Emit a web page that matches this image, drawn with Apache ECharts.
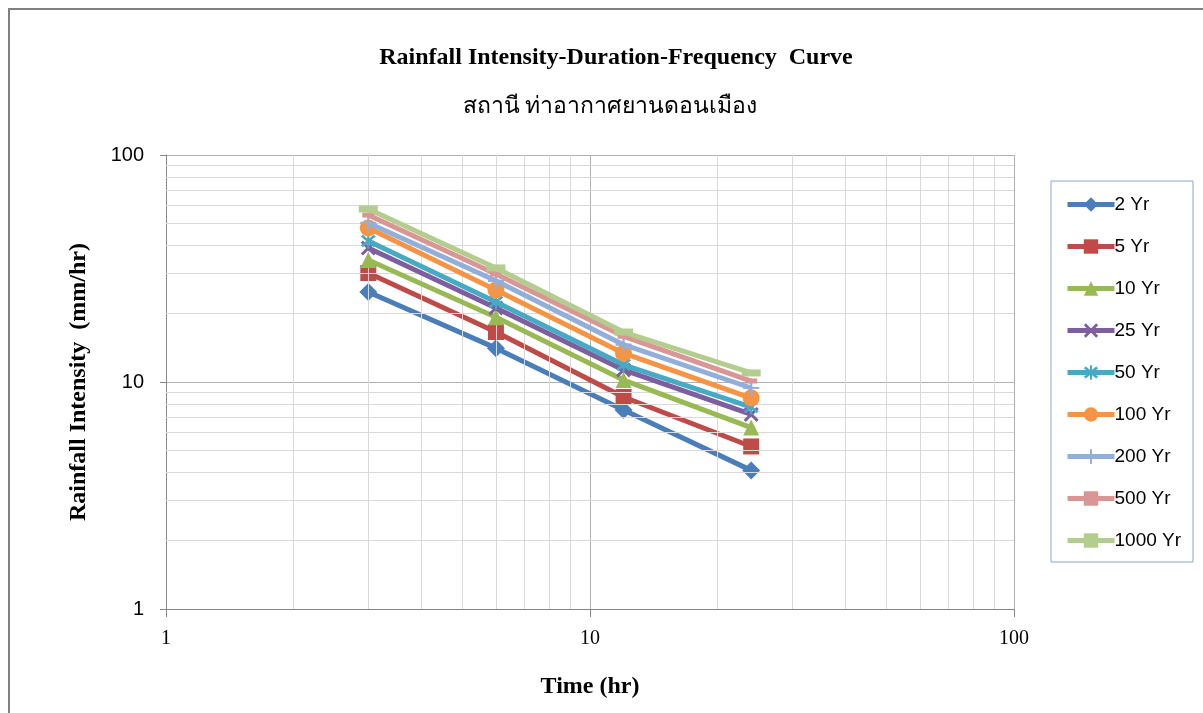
<!DOCTYPE html>
<html>
<head>
<meta charset="utf-8">
<script src="https://cdn.jsdelivr.net/npm/echarts@6/dist/echarts.min.js"></script>
<style>html,body{margin:0;padding:0;background:#fff}#c{width:1203px;height:713px}</style>
</head>
<body>
<div id="c"></div>
<script>
// ---- data ----
const durations = [3, 6, 12, 24];
const seriesNames = ['2 Yr','5 Yr','10 Yr','25 Yr','50 Yr','100 Yr','200 Yr','500 Yr','1000 Yr'];
const yr2    = [24.9, 14.1, 7.53, 4.08];
const yr5    = [30.2, 16.6, 8.59, 5.2];
const yr10   = [34.5, 19.3, 10.2, 6.3];
const yr25   = [38.9, 21.2, 11.3, 7.2];
const yr50   = [41.8, 22.5, 11.9, 7.76];
const yr100  = [47.7, 25.4, 13.4, 8.50];
const yr200  = [50.2, 27.9, 14.6, 9.41];
const yr500  = [54.4, 29.9, 15.9, 10.1];
const yr1000 = [57.8, 31.8, 16.6, 10.96];
const minorTicks = [2,3,4,5,6,7,8,9,20,30,40,50,60,70,80,90];
const titleText = 'Rainfall Intensity-Duration-Frequency  Curve';
const subTitleText = 'สถานี ท่าอากาศยานดอนเมือง';

const allValues = [yr2, yr5, yr10, yr25, yr50, yr100, yr200, yr500, yr1000];
const colors = ['#4A7EBB','#BE4B48','#98B954','#7D5FA0','#46AAC4','#F59444','#92AEDA','#DA9694','#B3CD8E'];
const X_PATH = 'path://M0,1.4 L1.4,0 L5,3.6 L8.6,0 L10,1.4 L6.4,5 L10,8.6 L8.6,10 L5,6.4 L1.4,10 L0,8.6 L3.6,5 Z';
const AST_PATH = 'path://M0,1.4 L1.4,0 L5,3.6 L8.6,0 L10,1.4 L6.4,5 L10,8.6 L8.6,10 L5,6.4 L1.4,10 L0,8.6 L3.6,5 Z M4.3,-1 L5.7,-1 L5.7,11 L4.3,11 Z';
const PLUS_PATH = 'path://M4.3,0 L5.7,0 L5.7,4.3 L10,4.3 L10,5.7 L5.7,5.7 L5.7,10 L4.3,10 L4.3,5.7 L0,5.7 L0,4.3 L4.3,4.3 Z';
const symbols = ['diamond','rect','triangle',X_PATH,AST_PATH,'circle',PLUS_PATH,'rect','rect'];
const symbolSizes = [18,16,16,15,15,17,16,[12,5],[19,7]];

const chart = echarts.init(document.getElementById('c'), null, {renderer:'canvas'});

const gridMarks = [];
minorTicks.forEach(v => { gridMarks.push({xAxis: v}); gridMarks.push({yAxis: v}); });

const series = [{
  name: '_grid', type: 'line', data: [], z: 1, silent: true,
  markLine: {
    silent: true, symbol: ['none','none'], label: {show:false}, animation: false,
    lineStyle: {color:'#D9D9D9', width:1, type:'solid'},
    emphasis: {disabled: true},
    data: gridMarks
  }
}];
seriesNames.forEach((n, i) => {
  series.push({
    name: n, type: 'line', z: 3 + i,
    data: durations.map((d, j) => [d, allValues[i][j]]),
    symbol: symbols[i], symbolSize: symbolSizes[i], showAllSymbol: true,
    lineStyle: {color: colors[i], width: 5},
    itemStyle: {color: colors[i], borderColor: colors[i], borderWidth: 0},
    emphasis: {disabled: true}
  });
});

chart.setOption({
  animation: false,
  backgroundColor: '#fff',
  title: [
    {text: titleText, left: 611, top: 41, textAlign: 'center',
     textStyle: {fontFamily: 'Liberation Serif', fontWeight: 'bold', fontSize: 24, color: '#000'}},
    {text: subTitleText, left: 605, top: 90, textAlign: 'center',
     textStyle: {fontFamily: 'Liberation Serif', fontWeight: 'normal', fontSize: 23, color: '#000'}}
  ],
  grid: {left: 166, top: 155, width: 848, height: 454, containLabel: false},
  legend: {
    orient: 'vertical', left: 1060, top: 190,
    data: seriesNames,
    itemWidth: 47, itemHeight: 18, itemGap: 23,
    lineStyle: {width: 5},
    textStyle: {fontFamily: 'Liberation Sans', fontSize: 19, color: '#000', padding: [0,0,0,-5]},
    selectedMode: false
  },
  xAxis: {
    type: 'log', logBase: 10, min: 1, max: 100,
    name: 'Time (hr)', nameLocation: 'middle', nameGap: 66,
    nameTextStyle: {fontFamily: 'Liberation Serif', fontWeight: 'bold', fontSize: 24, color: '#000'},
    axisLine: {show: true, lineStyle: {color: '#868686', width: 1}},
    axisTick: {show: true, length: 8, inside: false, lineStyle: {color: '#868686'}},
    axisLabel: {fontFamily: 'Liberation Serif', fontSize: 20, color: '#000', margin: 20},
    splitLine: {show: true, lineStyle: {color: '#B0B0B0', width: 1}},
    minorTick: {show: false}
  },
  yAxis: {
    type: 'log', logBase: 10, min: 1, max: 100,
    name: 'Rainfall Intensity  (mm/hr)', nameLocation: 'middle', nameGap: 75, nameRotate: 90,
    nameTextStyle: {fontFamily: 'Liberation Serif', fontWeight: 'bold', fontSize: 24, color: '#000'},
    axisLine: {show: true, lineStyle: {color: '#868686', width: 1}},
    axisTick: {show: true, length: 6, inside: false, lineStyle: {color: '#868686'}},
    axisLabel: {fontFamily: 'Liberation Sans', fontSize: 20, color: '#000', margin: 22},
    splitLine: {show: true, lineStyle: {color: '#B0B0B0', width: 1}},
    minorTick: {show: false}
  },
  graphic: [
    {type: 'rect', shape: {x: 1051, y: 181, width: 142, height: 381},
     style: {fill: 'none', stroke: '#8EA6C8', lineWidth: 1}, z: 0, silent: true},
    {type: 'polyline', shape: {points: [[9, 713], [9, 9], [1203, 9]]},
     style: {fill: 'none', stroke: '#808080', lineWidth: 2}, silent: true}
  ],
  series: series
});
</script>
</body>
</html>
